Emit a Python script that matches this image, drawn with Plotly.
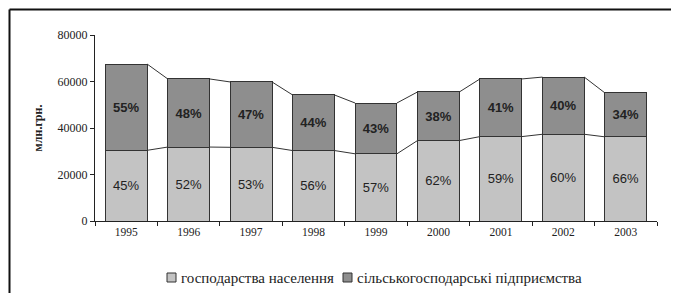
import plotly.graph_objects as go

years = ["1995", "1996", "1997", "1998", "1999", "2000", "2001", "2002", "2003"]
households = [30400, 31800, 31700, 30300, 28900, 34600, 36300, 37300, 36200]
enterprises = [37100, 29300, 28100, 23900, 21850, 20900, 24800, 24600, 18900]
pct_households = ["45%", "52%", "53%", "56%", "57%", "62%", "59%", "60%", "66%"]
pct_enterprises = ["55%", "48%", "47%", "44%", "43%", "38%", "41%", "40%", "34%"]
y_ticks = [0, 20000, 40000, 60000, 80000]
series_names = ["господарства населення", "сільськогосподарські підприємства"]
series_colors = ["#c3c3c3", "#8e8e8e"]

SERIF = "Liberation Serif, Times New Roman, DejaVu Serif, serif"

x = list(range(len(years)))
totals = [h + e for h, e in zip(households, enterprises)]
bw = 0.67

fig = go.Figure()
fig.add_trace(go.Bar(
    x=x, y=households, width=bw, name=series_names[0],
    marker=dict(color=series_colors[0], line=dict(color="#333333", width=1)),
    text=pct_households, textposition="inside", insidetextanchor="middle",
    textfont=dict(family="Liberation Sans", size=13, color="#222222"),
))
fig.add_trace(go.Bar(
    x=x, y=enterprises, width=bw, name=series_names[1],
    marker=dict(color=series_colors[1], line=dict(color="#333333", width=1)),
    text=["<b>%s</b>" % t for t in pct_enterprises], textposition="inside",
    insidetextanchor="middle",
    textfont=dict(family="Liberation Sans", size=13, color="#222222"),
))

# connector lines between adjacent bars
for series in (households, totals):
    for i in range(len(x) - 1):
        fig.add_trace(go.Scatter(
            x=[x[i] + bw / 2, x[i + 1] - bw / 2], y=[series[i], series[i + 1]],
            mode="lines", line=dict(color="#333333", width=1),
            showlegend=False, hoverinfo="skip",
        ))

# page has an 8px body margin; plot area on screen: x 95..657, y 35..221
OFF = 8
L, T = 95 - OFF, 35 - OFF
PW, PH = 562, 186
R = 679 - (L + PW)
B = 293 - (T + PH)


def px_x(p):
    return (p - 95) / float(PW)


def px_y(p):
    return (221 - p) / float(PH)


# outer frame (open at bottom)
frame = dict(type="line", xref="paper", yref="paper", line=dict(color="#111111", width=2))
fl, fr, ft, fb = px_x(9.5), px_x(672), px_y(9.5), px_y(310)
fig.add_shape(x0=fl, x1=fl, y0=ft, y1=fb, **frame)
fig.add_shape(x0=fl, x1=fr, y0=ft, y1=ft, **frame)
fig.add_shape(x0=fr, x1=fr, y0=ft, y1=fb, **frame)

# legend drawn manually (compact, like the original)
legend_marker_x = [167, 343]
for mx, name, col in zip(legend_marker_x, series_names, series_colors):
    fig.add_shape(type="rect", xref="paper", yref="paper",
                  x0=px_x(mx), x1=px_x(mx + 9), y0=px_y(282), y1=px_y(273),
                  fillcolor=col, line=dict(color="#333333", width=1))
    fig.add_annotation(xref="paper", yref="paper", x=px_x(mx + 12), y=px_y(277.5),
                       xanchor="left", yanchor="middle", showarrow=False, text=name,
                       font=dict(family=SERIF, size=15, color="#222222"))

fig.update_layout(
    width=679, height=293,
    margin=dict(l=L, r=R, t=T, b=B),
    barmode="stack", bargap=0.33,
    plot_bgcolor="white", paper_bgcolor="white",
    showlegend=False,
    font=dict(family=SERIF, color="#222222"),
)
fig.update_xaxes(
    range=[-0.5, 8.5], tickvals=x, ticktext=years, ticks="",
    showline=True, linecolor="#222222", linewidth=1, showgrid=False, zeroline=False,
    tickfont=dict(family=SERIF, size=11.5, color="#222222"),
    minor=dict(tickvals=[i - 0.5 for i in range(len(years) + 1)], ticks="outside",
               ticklen=4, tickcolor="#222222"),
)
fig.update_yaxes(
    range=[0, 80000], tickvals=y_ticks, ticktext=[str(v) for v in y_ticks],
    ticks="outside", ticklen=4, tickcolor="#222222",
    showline=True, linecolor="#222222", linewidth=1, showgrid=False, zeroline=False,
    tickfont=dict(family=SERIF, size=12, color="#222222"),
    title=dict(text="<b>млн.грн.</b>", font=dict(family=SERIF, size=12),
               standoff=12),
)

fig.write_html("out.html")
